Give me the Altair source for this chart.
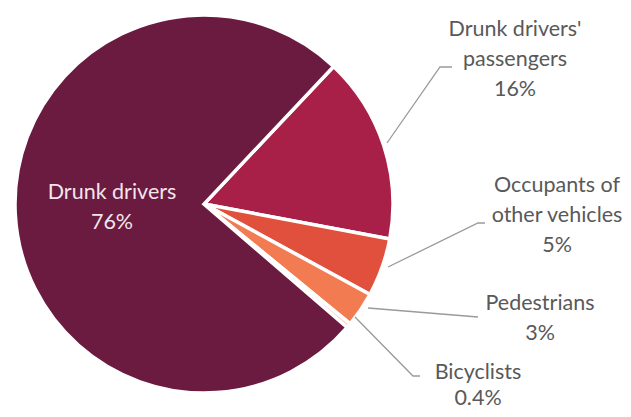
import math
import altair as alt
import pandas as pd

# Data
categories = ["Drunk drivers' passengers", "Occupants of other vehicles", "Pedestrians", "Bicyclists", "Drunk drivers"]
values = [16, 5, 3, 0.4, 76]
pct_labels = ["16%", "5%", "3%", "0.4%", "76%"]
colors = ["#a81f47", "#e1503d", "#f27b52", "#f9cfae", "#6b1a40"]

# Label text lines
label_text = [
    "Drunk drivers'\npassengers\n16%",
    "Occupants of\nother vehicles\n5%",
    "Pedestrians\n3%",
    "Bicyclists\n0.4%",
    "Drunk drivers\n76%",
]

# Layout (pixels, chart coordinates)
CX, CY, R = 196, 191, 189
START = math.radians(43.3)
label_x = [507, 549, 532, 470, 104]
label_y = [17, 173, 291, 360, 180]
label_lh = [30, 30, 30, 26, 30]
label_color = ["#595959", "#595959", "#595959", "#595959", "#f2e6ec"]
leader_pts = [
    [(379, 130), (432, 54), (444, 54)],
    [(380, 254), (470, 210), (477, 210)],
    [(360, 295), (470, 304)],
    [(347, 304), (405, 363), (412, 363)],
]

pie_df = pd.DataFrame({"cat": categories, "value": values, "order": list(range(len(values)))})

pie = alt.Chart(pie_df).mark_arc(stroke="white", strokeWidth=3.5, outerRadius=R).encode(
    theta=alt.Theta("value:Q", stack=True, scale=alt.Scale(range=[START, START + 2 * math.pi])),
    color=alt.Color("cat:N", scale=alt.Scale(domain=categories, range=colors), legend=None),
    order=alt.Order("order:Q"),
    x=alt.value(CX),
    y=alt.value(CY),
)

label_layers = []
for t, lx, ly, lh, lc in zip(label_text, label_x, label_y, label_lh, label_color):
    d = pd.DataFrame({"t": [t], "x": [lx], "y": [ly]})
    label_layers.append(
        alt.Chart(d).mark_text(
            font="Lato", fontSize=21.5, lineBreak="\n", lineHeight=lh,
            align="center", baseline="middle", color=lc,
        ).encode(
            x=alt.X("x:Q", scale=None, axis=None),
            y=alt.Y("y:Q", scale=None, axis=None),
            text="t:N",
        )
    )

rows = []
for i, pts in enumerate(leader_pts):
    for j, (px, py) in enumerate(pts):
        rows.append({"id": i, "k": j, "x": px, "y": py})
lead_df = pd.DataFrame(rows)
leaders = alt.Chart(lead_df).mark_line(color="#9a9a9a", strokeWidth=1.3).encode(
    x=alt.X("x:Q", scale=None, axis=None),
    y=alt.Y("y:Q", scale=None, axis=None),
    detail="id:N",
    order="k:Q",
)

chart = alt.layer(pie, leaders, *label_layers).properties(
    width=615, height=401, padding=0, background="white",
    autosize=alt.AutoSizeParams(type="fit", contains="padding"),
).configure_view(strokeWidth=0)

chart.save("out.html", embed_options={"renderer": "svg", "actions": False})
